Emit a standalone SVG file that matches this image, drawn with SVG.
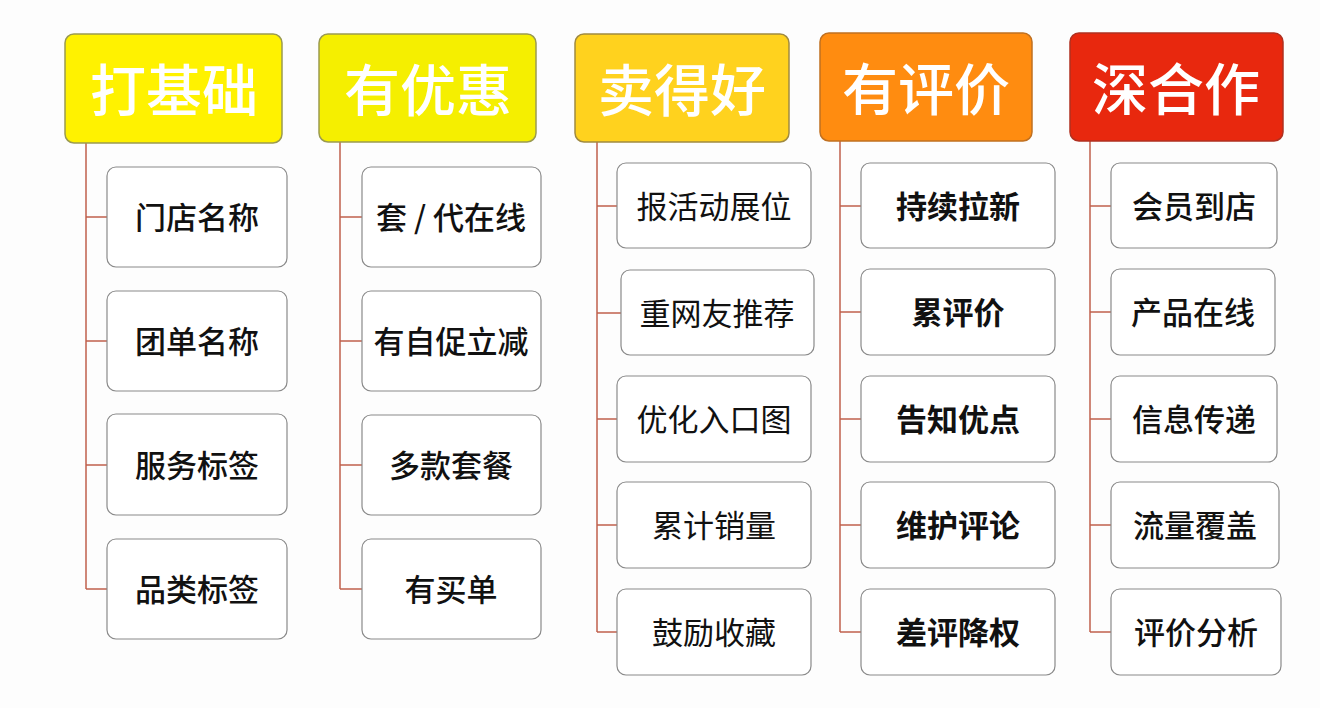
<svg xmlns="http://www.w3.org/2000/svg" width="1320" height="708" viewBox="0 0 1320 708">
<style>
.hd{stroke-width:1.5;}
.ht{font-family:"Noto Sans CJK SC","Noto Sans",sans-serif;font-size:56px;fill:#ffffff;text-anchor:middle;dominant-baseline:central;font-weight:500;}
.bx{fill:#ffffff;stroke:#8a8a8a;stroke-width:1.2;}
.bt{font-family:"Noto Sans CJK SC","Noto Sans",sans-serif;font-size:31px;fill:#111111;text-anchor:middle;dominant-baseline:central;}
.w5{font-weight:500;}
.w7{font-weight:700;}
.ln{stroke:#c0604c;stroke-width:1.5;fill:none;}
</style>
<rect x="0" y="0" width="1320" height="708" fill="#fdfdfd"/>
<g id="connectors">
<path class="ln" d="M86 143V589M86 217H107M86 341H107M86 465H107M86 589H107"/>
<path class="ln" d="M340 142V589M340 217H362M340 341H362M340 465H362M340 589H362"/>
<path class="ln" d="M597 142V632M597 206H617M597 313H621M597 419H617M597 525H617M597 632H617"/>
<path class="ln" d="M840 141V632M840 206H861M840 312H861M840 419H861M840 525H861M840 632H861"/>
<path class="ln" d="M1090 141V632M1090 206H1111M1090 312H1111M1090 419H1111M1090 525H1111M1090 632H1111"/>
</g>
<g id="h1"><rect class="hd" x="65" y="34" width="217" height="109" rx="9" fill="#fff200" stroke="#9a9a50"/><text class="ht" x="174" y="86">打基础</text></g>
<g id="h2"><rect class="hd" x="319" y="34" width="217" height="108" rx="9" fill="#f5ef00" stroke="#9a9a50"/><text class="ht" x="428" y="86">有优惠</text></g>
<g id="h3"><rect class="hd" x="575" y="34" width="214" height="108" rx="9" fill="#ffd21e" stroke="#a08a40"/><text class="ht" x="682" y="86">卖得好</text></g>
<g id="h4"><rect class="hd" x="820" y="33" width="212" height="108" rx="9" fill="#ff8c10" stroke="#c07020"/><text class="ht" x="926" y="85">有评价</text></g>
<g id="h5"><rect class="hd" x="1070" y="33" width="213" height="108" rx="9" fill="#e8280e" stroke="#b03020"/><text class="ht" x="1176" y="85">深合作</text></g>

<g id="c1a"><rect class="bx" x="107" y="167" width="180" height="100" rx="9"/><text class="bt w5" x="197" y="215">门店名称</text></g>
<g id="c1b"><rect class="bx" x="107" y="291" width="180" height="100" rx="9"/><text class="bt w5" x="197" y="339">团单名称</text></g>
<g id="c1c"><rect class="bx" x="107" y="414" width="180" height="101" rx="9"/><text class="bt w5" x="197" y="463">服务标签</text></g>
<g id="c1d"><rect class="bx" x="107" y="539" width="180" height="100" rx="9"/><text class="bt w5" x="197" y="587">品类标签</text></g>

<g id="c2a"><rect class="bx" x="362" y="167" width="179" height="100" rx="9"/><text class="bt w5" x="451" y="215">套 / 代在线</text></g>
<g id="c2b"><rect class="bx" x="362" y="291" width="179" height="100" rx="9"/><text class="bt w5" x="451" y="339">有自促立减</text></g>
<g id="c2c"><rect class="bx" x="362" y="415" width="179" height="100" rx="9"/><text class="bt w5" x="451" y="463">多款套餐</text></g>
<g id="c2d"><rect class="bx" x="362" y="539" width="179" height="100" rx="9"/><text class="bt w5" x="451" y="587">有买单</text></g>

<g id="c3a"><rect class="bx" x="617" y="163" width="194" height="85" rx="9"/><text class="bt" x="714" y="204">报活动展位</text></g>
<g id="c3b"><rect class="bx" x="621" y="270" width="193" height="85" rx="9"/><text class="bt" x="717" y="311">重网友推荐</text></g>
<g id="c3c"><rect class="bx" x="617" y="376" width="194" height="86" rx="9"/><text class="bt" x="714" y="417">优化入口图</text></g>
<g id="c3d"><rect class="bx" x="617" y="482" width="194" height="86" rx="9"/><text class="bt" x="714" y="523">累计销量</text></g>
<g id="c3e"><rect class="bx" x="617" y="589" width="194" height="86" rx="9"/><text class="bt" x="714" y="630">鼓励收藏</text></g>

<g id="c4a"><rect class="bx" x="861" y="163" width="194" height="85" rx="9"/><text class="bt w7" x="958" y="204">持续拉新</text></g>
<g id="c4b"><rect class="bx" x="861" y="269" width="194" height="86" rx="9"/><text class="bt w7" x="958" y="310">累评价</text></g>
<g id="c4c"><rect class="bx" x="861" y="376" width="194" height="86" rx="9"/><text class="bt w7" x="958" y="417">告知优点</text></g>
<g id="c4d"><rect class="bx" x="861" y="482" width="194" height="86" rx="9"/><text class="bt w7" x="958" y="523">维护评论</text></g>
<g id="c4e"><rect class="bx" x="861" y="589" width="194" height="86" rx="9"/><text class="bt w7" x="958" y="630">差评降权</text></g>

<g id="c5a"><rect class="bx" x="1111" y="163" width="166" height="85" rx="9"/><text class="bt w5" x="1194" y="204">会员到店</text></g>
<g id="c5b"><rect class="bx" x="1111" y="269" width="164" height="86" rx="9"/><text class="bt w5" x="1193" y="310">产品在线</text></g>
<g id="c5c"><rect class="bx" x="1111" y="376" width="166" height="86" rx="9"/><text class="bt w5" x="1194" y="417">信息传递</text></g>
<g id="c5d"><rect class="bx" x="1111" y="482" width="168" height="86" rx="9"/><text class="bt w5" x="1195" y="523">流量覆盖</text></g>
<g id="c5e"><rect class="bx" x="1111" y="589" width="170" height="86" rx="9"/><text class="bt w5" x="1196" y="630">评价分析</text></g>
</svg>
